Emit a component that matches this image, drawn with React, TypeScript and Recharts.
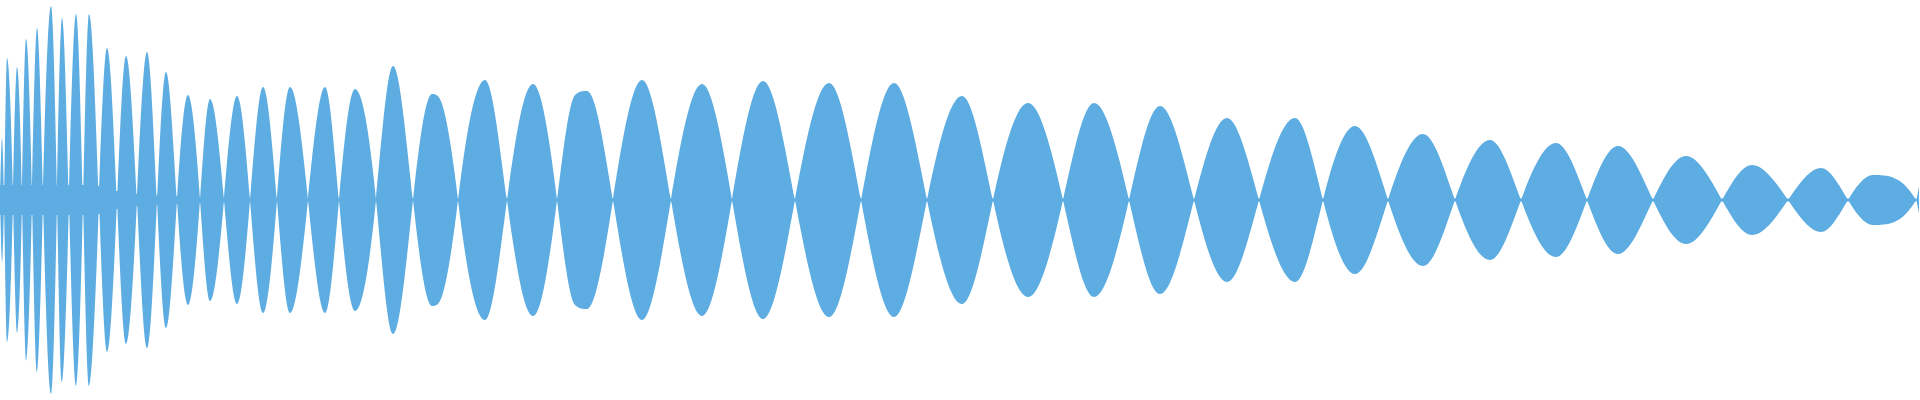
import React from 'react';
import { AreaChart, Area, XAxis, YAxis } from 'recharts';

// time in ms, amplitude in % of full scale
const crossings = [4, 13, 22, 32, 43, 57, 69, 83, 99, 117, 137, 157, 177, 200, 224, 250, 277, 308, 339, 376, 413, 458, 507, 557, 613, 671, 732, 795, 861, 927, 993, 1063, 1129, 1194, 1259, 1323, 1388, 1455, 1521, 1587, 1653, 1722, 1788, 1848, 1916];
const peakTimes = [2, 7, 17, 26, 37, 51, 62, 76, 89, 107, 126, 147, 166, 188, 210, 237, 263, 290, 325, 355, 393, 432, 485, 533, 587, 642, 702, 763, 829, 894, 962, 1028, 1094, 1160, 1227, 1295, 1355, 1423, 1490, 1556, 1618, 1686, 1752, 1821, 1873];
const peakAmps = [31, 71, 66.5, 80.5, 86, 97, 91, 93, 93, 76, 72, 74, 64, 52.5, 50.5, 52, 56.5, 56.5, 56.5, 55.5, 67, 53, 60, 58, 54.5, 60, 58, 59.5, 58.5, 58.5, 52, 48.5, 48.5, 47, 41, 41, 37, 33, 30, 28.5, 27, 22, 17.5, 16, 12.5];
// extra samples: shoulders on a couple of lobes and the last sample
const extraTimes = [443, 575, 1919];
const extraAmps = [46.5, 52.5, 6.5];
// residual band around zero
const floorTimes = [0, 95, 120, 145, 200, 260, 1916];
const floorAmps = [7.5, 7.5, 4, 2.5, 1.5, 0.8, 0.8];

const lobeOf = (t: number) => crossings.filter((c) => c < t).length;
const sign = (t: number) => (lobeOf(t) % 2 === 0 ? 1 : -1);

const byTime: Record<number, any> = {};
const row = (t: number) => (byTime[t] = byTime[t] || { t });
row(0).wave = 0;
crossings.forEach((c) => (row(c).wave = 0));
peakTimes.forEach((p, i) => (row(p).wave = sign(p) * peakAmps[i]));
extraTimes.forEach((p, i) => (row(p).wave = sign(p) * extraAmps[i]));
floorTimes.forEach((f, i) => (row(f).floor = [-floorAmps[i], floorAmps[i]]));
const rows = Object.values(byTime).sort((a: any, b: any) => a.t - b.t);
rows.forEach((r: any) => {
  if (r.wave !== undefined) r.mirror = -r.wave;
});

// hermite curve: flat at extrema, steeper (sine-like) through zero crossings
const waveCurve = (ctx: any) => {
  let xs: number[] = [];
  let ys: number[] = [];
  let line = NaN;
  return {
    areaStart() { line = 0; },
    areaEnd() { line = NaN; },
    lineStart() { xs = []; ys = []; },
    point(x: number, y: number) {
      if (xs.length && x === xs[xs.length - 1]) return;
      xs.push(+x);
      ys.push(+y);
    },
    lineEnd() {
      const n = xs.length;
      if (n) {
        if (line) ctx.lineTo(xs[0], ys[0]);
        else ctx.moveTo(xs[0], ys[0]);
        const sec: number[] = [];
        for (let i = 0; i < n - 1; i++) sec.push((ys[i + 1] - ys[i]) / (xs[i + 1] - xs[i]));
        const m: number[] = [];
        for (let i = 0; i < n; i++) {
          if (i === 0) m.push(sec[0] || 0);
          else if (i === n - 1) m.push(sec[n - 2]);
          else {
            const a = sec[i - 1];
            const b = sec[i];
            if (a * b <= 0) m.push(0);
            else {
              const h0 = xs[i] - xs[i - 1];
              const h1 = xs[i + 1] - xs[i];
              const p = (a * h1 + b * h0) / (h0 + h1);
              const lim = 3 * Math.min(Math.abs(a), Math.abs(b));
              m.push(Math.sign(p) * Math.min(Math.abs(1.5 * p), lim));
            }
          }
        }
        for (let i = 0; i < n - 1; i++) {
          const dx = (xs[i + 1] - xs[i]) / 3;
          ctx.bezierCurveTo(xs[i] + dx, ys[i] + dx * m[i], xs[i + 1] - dx, ys[i + 1] - dx * m[i + 1], xs[i + 1], ys[i + 1]);
        }
      }
      if (line || (line !== 0 && n === 1)) ctx.closePath();
      line = 1 - line;
    },
  };
};

const color = '#5DADE2';

export default function App() {
  return (
    <div style={{ position: 'absolute', left: 0, top: 0, width: 1920, height: 400, background: '#fff' }}>
      <AreaChart width={1920} height={400} data={rows} margin={{ top: 0, right: 0, bottom: 0, left: 0 }}>
        <XAxis dataKey="t" type="number" domain={[0, 1920]} hide />
        <YAxis type="number" domain={[-100, 100]} hide allowDataOverflow />
        <Area type="linear" dataKey="floor" stroke="none" fill={color} fillOpacity={1} dot={false} activeDot={false} connectNulls isAnimationActive={false} />
        <Area type={waveCurve as any} dataKey="wave" stroke="none" fill={color} fillOpacity={1} dot={false} activeDot={false} connectNulls isAnimationActive={false} />
        <Area type={waveCurve as any} dataKey="mirror" stroke="none" fill={color} fillOpacity={1} dot={false} activeDot={false} connectNulls isAnimationActive={false} />
      </AreaChart>
    </div>
  );
}
